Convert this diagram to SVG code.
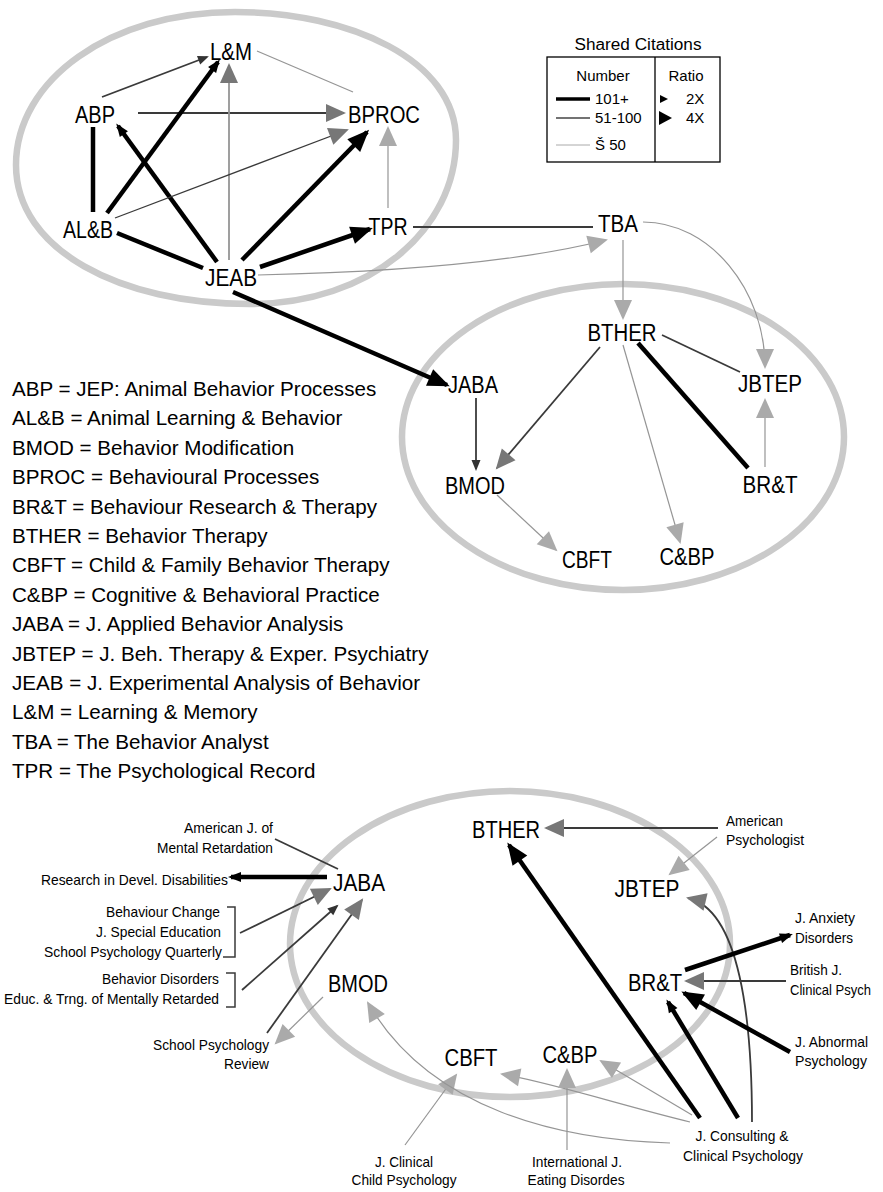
<svg xmlns="http://www.w3.org/2000/svg" width="883" height="1192" viewBox="0 0 883 1192">
<style>
text{font-family:"Liberation Sans",Arial,sans-serif;fill:#000}
.n{font-size:23px;text-anchor:middle}
.s{font-size:15px}
.k{font-size:20.6px}
.lg{font-size:15px}
.e{text-anchor:end}
.m{text-anchor:middle}
.thick{stroke:#000;stroke-width:4.5;fill:none}
.med{stroke:#3a3a3a;stroke-width:1.8;fill:none}
.thin{stroke:#959595;stroke-width:1.2;fill:none}
.band{fill:none;stroke:#cacaca;stroke-width:6.5}
</style>
<defs>
<marker id="bs" markerUnits="userSpaceOnUse" markerWidth="14" markerHeight="12" refX="10" refY="5" orient="auto" overflow="visible"><path d="M0,0 L13,5 L0,10 z" fill="#000"/></marker>
<marker id="bl" markerUnits="userSpaceOnUse" markerWidth="24" markerHeight="20" refX="19" refY="9" orient="auto" overflow="visible"><path d="M0,0 L22,9 L0,18 z" fill="#000"/></marker>
<marker id="ds" markerUnits="userSpaceOnUse" markerWidth="12" markerHeight="10" refX="9" refY="4.5" orient="auto" overflow="visible"><path d="M0,0 L11,4.5 L0,9 z" fill="#333"/></marker>
<marker id="gl" markerUnits="userSpaceOnUse" markerWidth="22" markerHeight="20" refX="18" refY="9" orient="auto" overflow="visible"><path d="M0,0 L20,9 L0,18 z" fill="#777"/></marker>
<marker id="ll" markerUnits="userSpaceOnUse" markerWidth="22" markerHeight="20" refX="18" refY="9" orient="auto" overflow="visible"><path d="M0,0 L20,9 L0,18 z" fill="#aaa"/></marker>
</defs>
<rect width="883" height="1192" fill="#fff"/>

<g id="clusters">
<path class="band" d="M235,12 C350,12 456,60 456,140 C456,230 370,304 250,304 C120,304 16,250 16,165 C16,80 110,12 235,12 Z"/>
<ellipse class="band" cx="623" cy="437" rx="221" ry="153"/>
<ellipse class="band" cx="510" cy="944" rx="220" ry="153"/>
</g>

<g id="connectors">
<path class="med" d="M102,97 L207,57" marker-end="url(#ds)"/>
<path class="thin" d="M257,51 L353,92"/>
<path class="med" d="M138,113 L344,113" marker-end="url(#gl)"/>
<path class="thick" d="M93,127 L93,212"/>
<path class="thick" d="M107,213 L218,62" marker-end="url(#bs)"/>
<path class="thick" d="M217,262 L118,126" marker-end="url(#bs)"/>
<path class="thin" style="stroke-width:1.8" d="M229,260 L229,65" marker-end="url(#gl)"/>
<path class="med" style="stroke-width:1.3" d="M115,218 L347,130" marker-end="url(#gl)"/>
<path class="thick" d="M242,260 L367,132" marker-end="url(#bl)"/>
<path class="thin" d="M388,208 L388,128" marker-end="url(#ll)"/>
<path class="thick" d="M117,233 L203,268"/>
<path class="thick" d="M260,267 L370,229" marker-end="url(#bl)"/>
<path class="med" style="stroke-width:2.2" d="M413,227 L593,227"/>
<path class="thin" d="M258,275 C400,272 520,262 606,240" marker-end="url(#ll)"/>
<path class="thick" d="M233,292 L447,385" marker-end="url(#bl)"/>

<path class="thin" d="M623,240 L623,318" marker-end="url(#ll)"/>
<path class="thin" d="M643,222 C710,222 765,290 765,367" marker-end="url(#ll)"/>
<path class="med" d="M662,335 L740,372"/>
<path class="thick" d="M638,343 L748,468"/>
<path class="thin" d="M765,467 L765,400" marker-end="url(#ll)"/>
<path class="med" d="M600,347 L497,468" marker-end="url(#gl)"/>
<path class="med" d="M476,398 L476,469" marker-end="url(#ds)"/>
<path class="thin" d="M623,345 L680,542" marker-end="url(#ll)"/>
<path class="thin" d="M497,495 L556,550" marker-end="url(#ll)"/>

<path class="thick" d="M327,877 L231,877" marker-end="url(#bs)"/>
<path class="med" d="M275,839 L338,869"/>
<path class="med" d="M240,933 L330,889" marker-end="url(#gl)"/>
<path class="med" d="M242,990 L337,906" marker-end="url(#ds)"/>
<path class="med" d="M267,1033 L362,900" marker-end="url(#gl)"/>
<path class="thin" d="M323,997 L276,1043" marker-end="url(#ll)"/>
<path class="thin" d="M405,1145 L456,1075" marker-end="url(#ll)"/>
<path class="thin" d="M670,1143 C560,1140 430,1110 368,1003" marker-end="url(#ll)"/>
<path class="thin" d="M690,1122 C620,1105 560,1085 502,1074" marker-end="url(#ll)"/>
<path class="thin" d="M692,1115 L601,1061" marker-end="url(#ll)"/>
<path class="thin" d="M567,1150 L567,1070" marker-end="url(#ll)"/>
<path class="thick" d="M700,1118 L509,845" marker-end="url(#bl)"/>
<path class="thick" d="M738,1118 L668,1002" marker-end="url(#bs)"/>
<path class="med" d="M752,1122 C752,1020 740,910 688,898" marker-end="url(#gl)"/>
<path class="thick" d="M790,1052 L684,993" marker-end="url(#bl)"/>
<path class="med" d="M786,981 L686,981" marker-end="url(#gl)"/>
<path class="thick" d="M685,970 L790,935" marker-end="url(#bs)"/>
<path class="med" d="M718,828 L546,828" marker-end="url(#gl)"/>
<path class="thin" d="M717,837 L670,874" marker-end="url(#ll)"/>
<path class="med" style="stroke-width:1.5" d="M227,907 H235 V957 H223"/>
<path class="med" style="stroke-width:1.5" d="M226,973 H235 V1007 H226"/>
</g>

<g id="n-LM"><text class="n" x="231" y="60" textLength="42" lengthAdjust="spacingAndGlyphs">L&amp;M</text></g>
<g id="n-ABP"><text class="n" x="95" y="123" textLength="40" lengthAdjust="spacingAndGlyphs">ABP</text></g>
<g id="n-BPROC"><text class="n" x="384" y="123" textLength="72" lengthAdjust="spacingAndGlyphs">BPROC</text></g>
<g id="n-ALB"><text class="n" x="88" y="238" textLength="50" lengthAdjust="spacingAndGlyphs">AL&amp;B</text></g>
<g id="n-TPR"><text class="n" x="388" y="235" textLength="39" lengthAdjust="spacingAndGlyphs">TPR</text></g>
<g id="n-JEAB"><text class="n" x="231" y="286" textLength="52" lengthAdjust="spacingAndGlyphs">JEAB</text></g>
<g id="n-TBA"><text class="n" x="618" y="232" textLength="40" lengthAdjust="spacingAndGlyphs">TBA</text></g>

<g id="n-BTHER-1"><text class="n" x="622" y="341" textLength="69" lengthAdjust="spacingAndGlyphs">BTHER</text></g>
<g id="n-JABA-1"><text class="n" x="473" y="393" textLength="50" lengthAdjust="spacingAndGlyphs">JABA</text></g>
<g id="n-JBTEP-1"><text class="n" x="770" y="392" textLength="64" lengthAdjust="spacingAndGlyphs">JBTEP</text></g>
<g id="n-BMOD-1"><text class="n" x="475" y="494" textLength="60" lengthAdjust="spacingAndGlyphs">BMOD</text></g>
<g id="n-BRT-1"><text class="n" x="770" y="493" textLength="55" lengthAdjust="spacingAndGlyphs">BR&amp;T</text></g>
<g id="n-CBFT-1"><text class="n" x="587" y="568" textLength="50" lengthAdjust="spacingAndGlyphs">CBFT</text></g>
<g id="n-CBP-1"><text class="n" x="687" y="565" textLength="55" lengthAdjust="spacingAndGlyphs">C&amp;BP</text></g>

<g id="n-BTHER-2"><text class="n" x="506" y="838" textLength="68" lengthAdjust="spacingAndGlyphs">BTHER</text></g>
<g id="n-JABA-2"><text class="n" x="359" y="891" textLength="52" lengthAdjust="spacingAndGlyphs">JABA</text></g>
<g id="n-JBTEP-2"><text class="n" x="647" y="897" textLength="65" lengthAdjust="spacingAndGlyphs">JBTEP</text></g>
<g id="n-BMOD-2"><text class="n" x="358" y="992" textLength="60" lengthAdjust="spacingAndGlyphs">BMOD</text></g>
<g id="n-BRT-2"><text class="n" x="655" y="991" textLength="54" lengthAdjust="spacingAndGlyphs">BR&amp;T</text></g>
<g id="n-CBFT-2"><text class="n" x="471" y="1066" textLength="53" lengthAdjust="spacingAndGlyphs">CBFT</text></g>
<g id="n-CBP-2"><text class="n" x="570" y="1063" textLength="55" lengthAdjust="spacingAndGlyphs">C&amp;BP</text></g>

<g id="ext-amjmr"><text class="s e" x="273" y="833" textLength="89" lengthAdjust="spacingAndGlyphs">American J. of</text><text class="s e" x="273" y="853" textLength="116" lengthAdjust="spacingAndGlyphs">Mental Retardation</text></g>
<g id="ext-rdd"><text class="s e" x="228" y="885" textLength="187" lengthAdjust="spacingAndGlyphs">Research in Devel. Disabilities</text></g>
<g id="ext-group1"><text class="s e" x="220" y="917" textLength="114" lengthAdjust="spacingAndGlyphs">Behaviour Change</text><text class="s e" x="221" y="937" textLength="125" lengthAdjust="spacingAndGlyphs">J. Special Education</text><text class="s e" x="222" y="957" textLength="178" lengthAdjust="spacingAndGlyphs">School Psychology Quarterly</text></g>
<g id="ext-group2"><text class="s e" x="219" y="984" textLength="117" lengthAdjust="spacingAndGlyphs">Behavior Disorders</text><text class="s e" x="219" y="1004" textLength="215" lengthAdjust="spacingAndGlyphs">Educ. &amp; Trng. of Mentally Retarded</text></g>
<g id="ext-spr"><text class="s e" x="269" y="1050" textLength="116" lengthAdjust="spacingAndGlyphs">School Psychology</text><text class="s e" x="269" y="1069" textLength="45" lengthAdjust="spacingAndGlyphs">Review</text></g>
<g id="ext-jccp"><text class="s m" x="404" y="1167" textLength="58" lengthAdjust="spacingAndGlyphs">J. Clinical</text><text class="s m" x="404" y="1185" textLength="105" lengthAdjust="spacingAndGlyphs">Child Psychology</text></g>
<g id="ext-ijed"><text class="s m" x="577" y="1167" textLength="90" lengthAdjust="spacingAndGlyphs">International J.</text><text class="s m" x="576" y="1185" textLength="97" lengthAdjust="spacingAndGlyphs">Eating Disordes</text></g>
<g id="ext-ap"><text class="s" x="726" y="826" textLength="57" lengthAdjust="spacingAndGlyphs">American</text><text class="s" x="726" y="845" textLength="78" lengthAdjust="spacingAndGlyphs">Psychologist</text></g>
<g id="ext-jad"><text class="s" x="795" y="923" textLength="60" lengthAdjust="spacingAndGlyphs">J. Anxiety</text><text class="s" x="795" y="943" textLength="58" lengthAdjust="spacingAndGlyphs">Disorders</text></g>
<g id="ext-bjcp"><text class="s" x="790" y="975" textLength="52" lengthAdjust="spacingAndGlyphs">British J.</text><text class="s" x="790" y="995" textLength="81" lengthAdjust="spacingAndGlyphs">Clinical Psych</text></g>
<g id="ext-jap"><text class="s" x="795" y="1047" textLength="73" lengthAdjust="spacingAndGlyphs">J. Abnormal</text><text class="s" x="795" y="1066" textLength="72" lengthAdjust="spacingAndGlyphs">Psychology</text></g>
<g id="ext-jccp2"><text class="s m" x="742" y="1141" textLength="93" lengthAdjust="spacingAndGlyphs">J. Consulting &amp;</text><text class="s m" x="743" y="1161" textLength="120" lengthAdjust="spacingAndGlyphs">Clinical Psychology</text></g>

<g id="legend-box">
<text class="lg m" x="638" y="50" style="font-size:16px" textLength="127" lengthAdjust="spacingAndGlyphs">Shared Citations</text>
<rect x="547" y="57" width="173" height="105" fill="none" stroke="#000" stroke-width="1.3"/>
<line x1="655" y1="57" x2="655" y2="162" stroke="#000" stroke-width="1.3"/>
<text class="lg m" x="603" y="81">Number</text>
<text class="lg m" x="686" y="81">Ratio</text>
<line x1="556" y1="99" x2="590" y2="99" stroke="#000" stroke-width="3.5"/>
<text class="lg" x="595" y="104">101+</text>
<line x1="556" y1="118" x2="590" y2="118" stroke="#444" stroke-width="1.5"/>
<text class="lg" x="595" y="123">51-100</text>
<line x1="556" y1="145" x2="590" y2="145" stroke="#aaa" stroke-width="1"/>
<text class="lg" x="595" y="150">Š 50</text>
<polygon points="660,95 668,99 660,103" fill="#000"/>
<text class="lg" x="686" y="104">2X</text>
<polygon points="659,111 672,118 659,125" fill="#000"/>
<text class="lg" x="686" y="123">4X</text>
</g>

<g id="abbrev">
<text class="k" x="12" y="396">ABP = JEP: Animal Behavior Processes</text>
<text class="k" x="12" y="425.4">AL&amp;B = Animal Learning &amp; Behavior</text>
<text class="k" x="12" y="454.8">BMOD = Behavior Modification</text>
<text class="k" x="12" y="484.2">BPROC = Behavioural Processes</text>
<text class="k" x="12" y="513.6">BR&amp;T = Behaviour Research &amp; Therapy</text>
<text class="k" x="12" y="543">BTHER = Behavior Therapy</text>
<text class="k" x="12" y="572.4">CBFT = Child &amp; Family Behavior Therapy</text>
<text class="k" x="12" y="601.8">C&amp;BP = Cognitive &amp; Behavioral Practice</text>
<text class="k" x="12" y="631.2">JABA = J. Applied Behavior Analysis</text>
<text class="k" x="12" y="660.6">JBTEP = J. Beh. Therapy &amp; Exper. Psychiatry</text>
<text class="k" x="12" y="690">JEAB = J. Experimental Analysis of Behavior</text>
<text class="k" x="12" y="719.4">L&amp;M = Learning &amp; Memory</text>
<text class="k" x="12" y="748.8">TBA = The Behavior Analyst</text>
<text class="k" x="12" y="778.2">TPR = The Psychological Record</text>
</g>
</svg>
